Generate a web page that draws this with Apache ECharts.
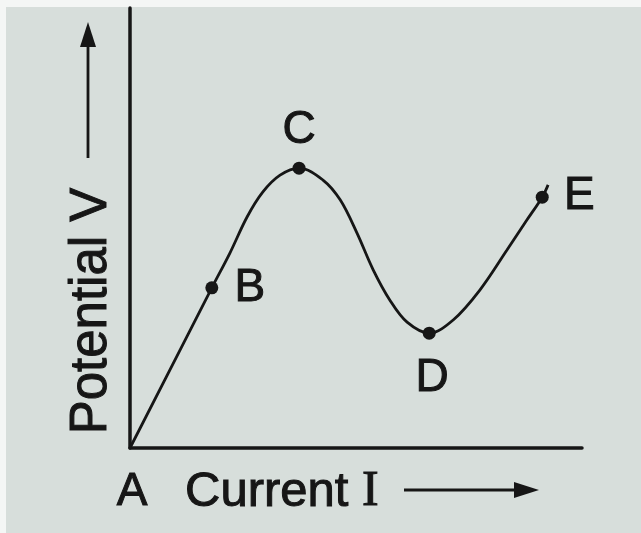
<!DOCTYPE html>
<html>
<head>
<meta charset="utf-8">
<script src="https://cdn.jsdelivr.net/npm/echarts@6/dist/echarts.min.js"></script>
<style>
  html, body { margin: 0; padding: 0; background: #d7dedb; }
  #chart { width: 641px; height: 533px; }
</style>
</head>
<body>
<div id="chart"></div>
<script>
// curve (I on x, V on y, arbitrary 0-100 units)
const currentI = [0, 18.1, 22.1, 25.9, 29.4, 33.2, 37.4, 42.7, 46.5, 50.2, 53.8, 57.5, 61.3, 66.2, 71.5, 77.4, 83.4, 87.8, 91.2, 92.5];
const potentialV = [0, 36.4, 44.3, 52.5, 58.2, 62.0, 63.6, 60.9, 56.4, 48.9, 40.5, 33.6, 28.6, 26.1, 29.1, 35.9, 45.0, 51.8, 57.0, 59.8];

// marked points
const pointNames = ['A', 'B', 'C', 'D', 'E'];
const pointI = [0, 18.1, 37.4, 66.2, 91.2];
const pointV = [0, 36.4, 63.6, 26.1, 57.0];

const labelOffsets = { A: [2, 44], B: [38, 0], C: [0, -38], D: [3, 45], E: [37, -1] };

var chartDom = document.getElementById('chart');
var myChart = echarts.init(chartDom);
var ink = '#161616';
var font = '"Liberation Sans", Arial, sans-serif';

var curve = currentI.map(function (x, i) { return [x, potentialV[i]]; });
var marks = pointNames.map(function (n, i) {
    return {
        name: n,
        value: [pointI[i], pointV[i]],
        symbolSize: n === 'A' ? 0 : 13,
        label: { offset: labelOffsets[n] }
    };
});

// slightly heavier strokes, like the printed page
var thick = { stroke: ink, lineWidth: 1 };

var option = {
    backgroundColor: '#d7dedb',
    animation: false,
    grid: { left: 130, right: 59, top: 8, bottom: 85 },
    xAxis: {
        type: 'value', min: 0, max: 100,
        axisLine: { show: true, lineStyle: { color: ink, width: 3.5 } },
        axisTick: { show: false }, axisLabel: { show: false }, splitLine: { show: false }
    },
    yAxis: {
        type: 'value', min: 0, max: 100,
        axisLine: { show: true, lineStyle: { color: ink, width: 3.5 } },
        axisTick: { show: false }, axisLabel: { show: false }, splitLine: { show: false }
    },
    series: [
        {
            type: 'line',
            data: curve,
            smooth: 0.35,
            symbol: 'none',
            lineStyle: { color: ink, width: 2.8 }
        },
        {
            type: 'scatter',
            data: marks,
            itemStyle: { color: ink, opacity: 1 },
            label: {
                show: true,
                position: 'inside',
                formatter: '{b}',
                color: ink,
                fontFamily: font,
                fontSize: 46,
                textBorderColor: ink,
                textBorderWidth: 1
            },
            z: 5
        }
    ],
    graphic: [
        // photo border
        { type: 'rect', shape: { x: 0, y: 0, width: 641, height: 7 }, style: { fill: '#f4f6f5' } },
        { type: 'rect', shape: { x: 0, y: 0, width: 6, height: 533 }, style: { fill: '#f4f6f5' } },
        // y title
        {
            type: 'text', x: 92, y: 311, rotation: Math.PI / 2,
            style: Object.assign({
                text: 'Potential V', fontFamily: font, fontSize: 51, fill: ink,
                align: 'center', verticalAlign: 'middle'
            }, thick)
        },
        { type: 'line', shape: { x1: 88, y1: 158, x2: 88, y2: 40 }, style: { stroke: ink, lineWidth: 2.8 } },
        { type: 'polygon', shape: { points: [[88, 22], [80, 47], [96, 47]] }, style: { fill: ink } },
        // x title
        {
            type: 'text', x: 185, y: 492,
            style: {
                text: '{a|Current }{b|I}',
                rich: {
                    a: Object.assign({ fontFamily: font, fontSize: 49, fill: ink }, thick),
                    b: Object.assign({ fontFamily: '"Liberation Serif", "Times New Roman", serif', fontSize: 50, fill: ink }, thick)
                },
                verticalAlign: 'middle'
            }
        },
        { type: 'line', shape: { x1: 404, y1: 490, x2: 520, y2: 490 }, style: { stroke: ink, lineWidth: 2.8 } },
        { type: 'polygon', shape: { points: [[539, 490], [514, 482], [514, 498]] }, style: { fill: ink } }
    ]
};

option && myChart.setOption(option);
</script>
</body>
</html>
